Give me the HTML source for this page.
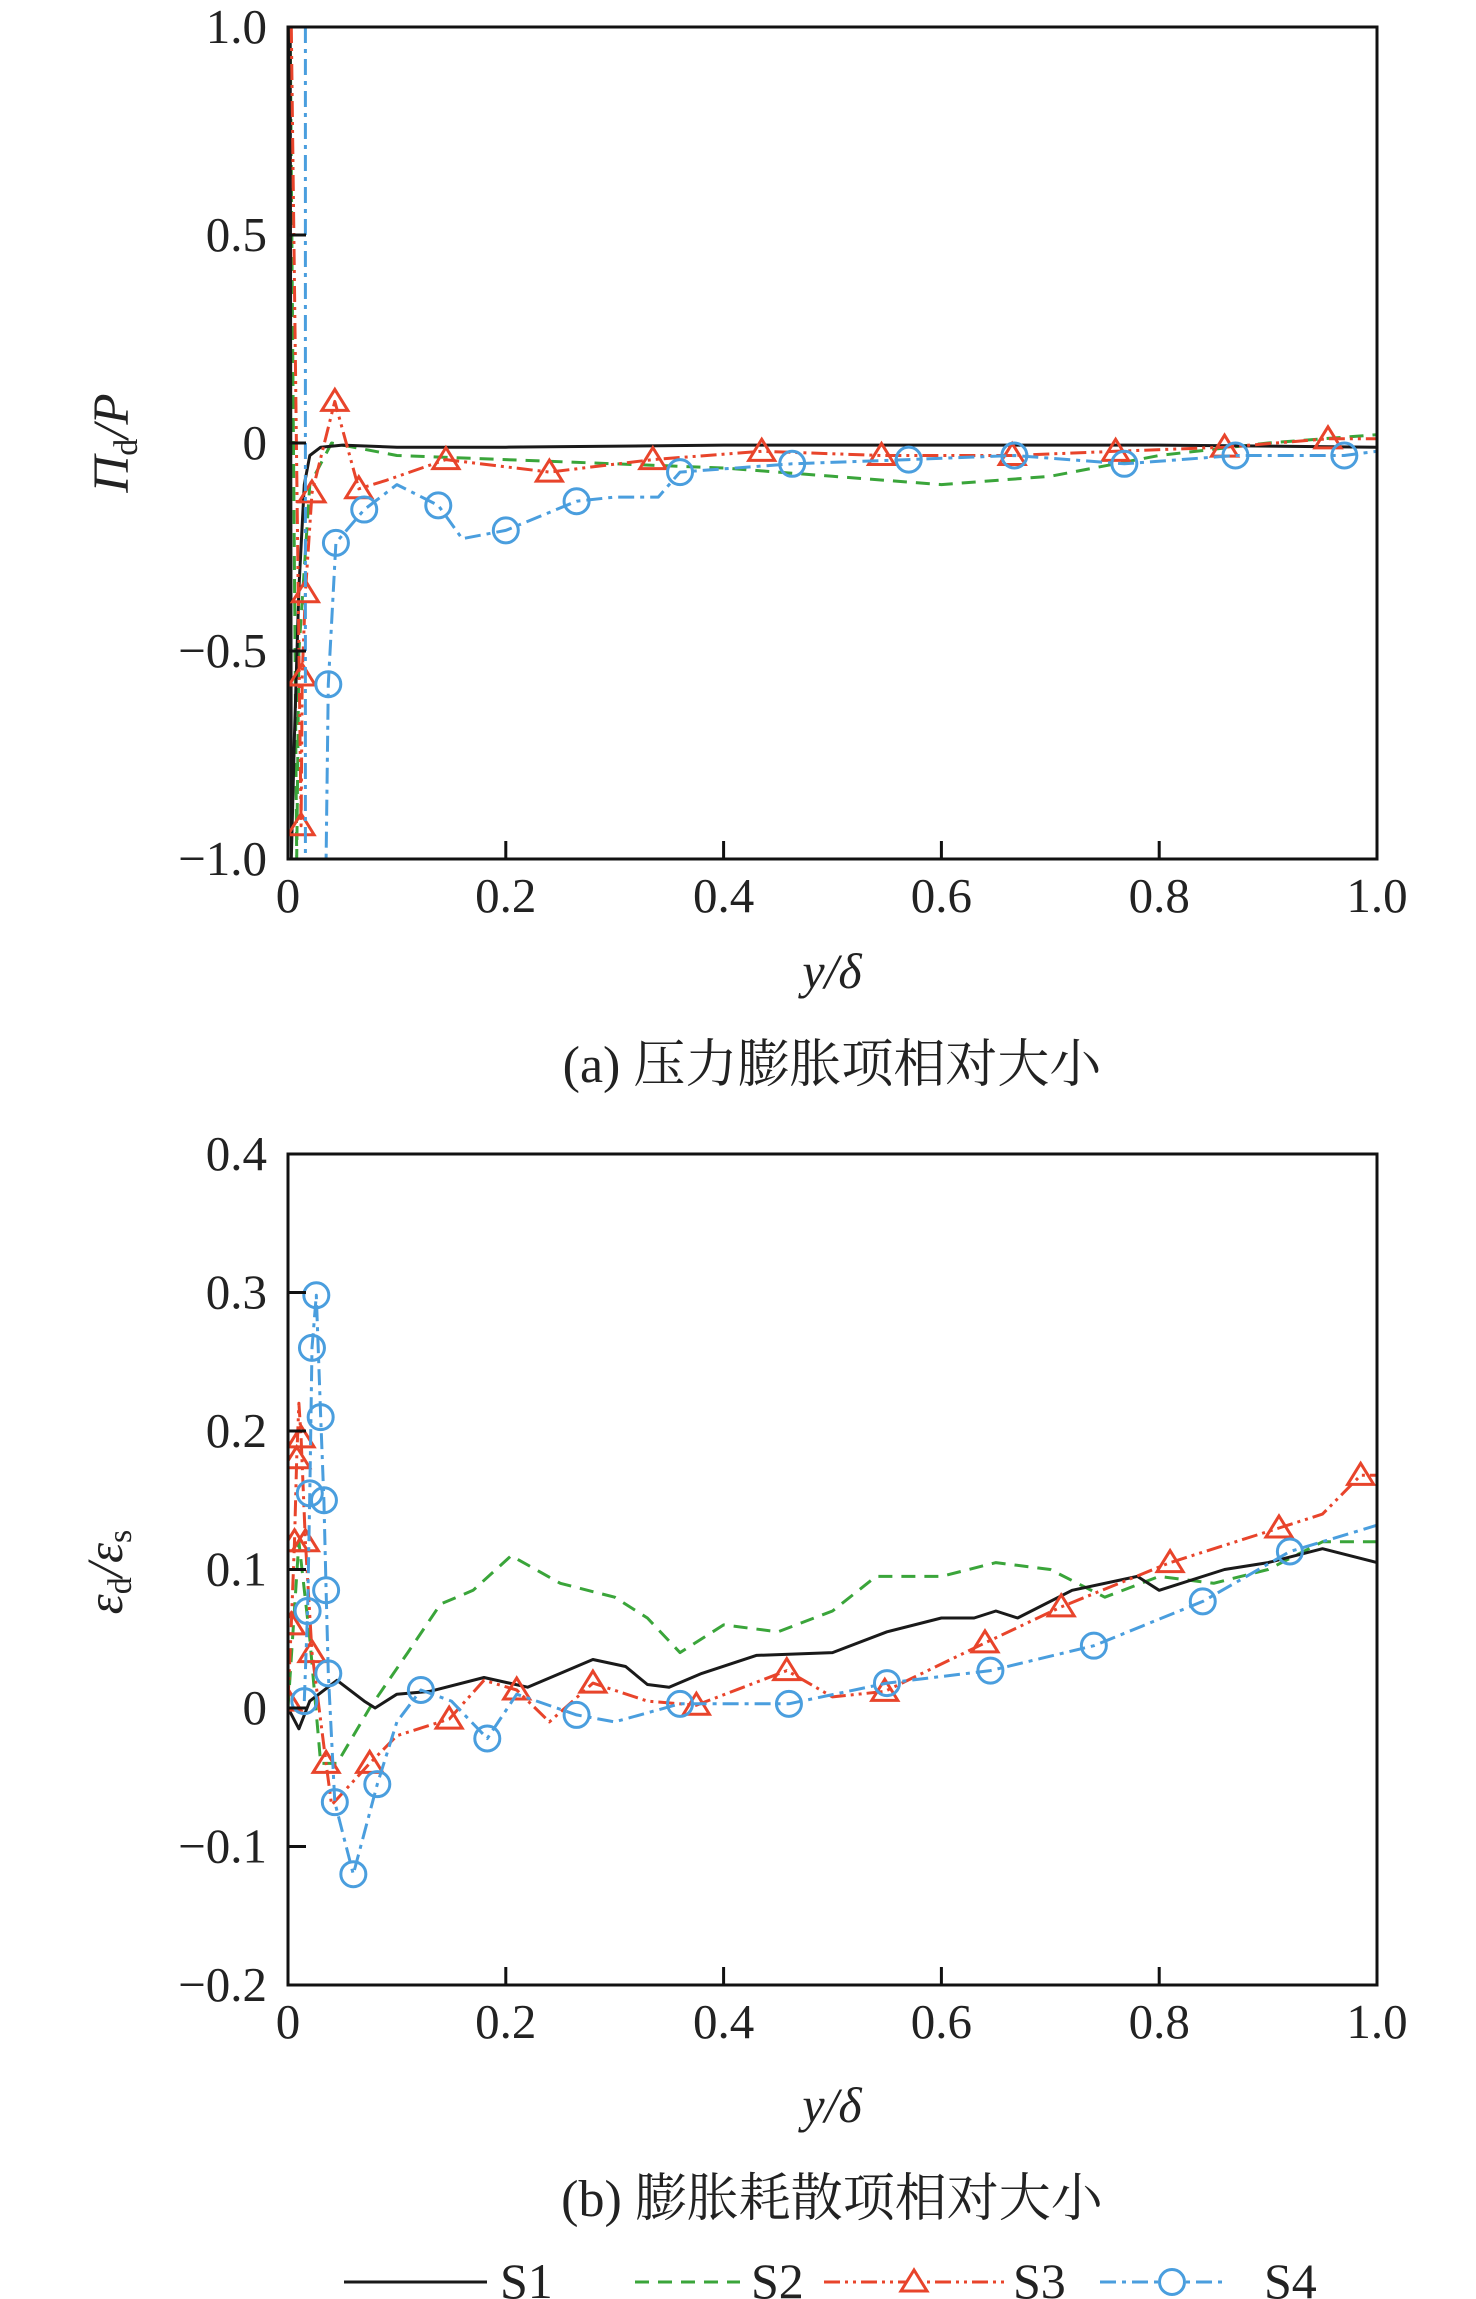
<!DOCTYPE html>
<html><head><meta charset="utf-8"><style>
html,body{margin:0;padding:0;background:#fff;}
svg{display:block;font-family:"Liberation Serif","Noto Serif CJK SC","Noto Sans CJK SC",serif;}
</style></head><body>
<svg id="fig" width="1476" height="2299" viewBox="0 0 1476 2299" xmlns="http://www.w3.org/2000/svg">
<defs>
<clipPath id="clipA"><rect x="288" y="27" width="1089" height="832"/></clipPath>
<clipPath id="clipB"><rect x="288" y="1154" width="1089" height="831"/></clipPath>
</defs>
</svg>
<script>
// ---------- Panel (a) data ----------
const xTicksA = [0, 0.2, 0.4, 0.6, 0.8, 1.0];
const xTickLabelsA = ["0", "0.2", "0.4", "0.6", "0.8", "1.0"];
const yTicksA = [-1.0, -0.5, 0, 0.5, 1.0];
const yTickLabelsA = ["\u22121.0", "\u22120.5", "0", "0.5", "1.0"];
const a_s1_x = [0.002,0.003,0.006,0.01,0.015,0.02,0.03,0.05,0.1,0.2,0.4,0.6,0.8,1.0];
const a_s1_y = [1.0,-1.0,-0.7,-0.35,-0.1,-0.03,-0.01,-0.005,-0.01,-0.01,-0.005,-0.005,-0.005,-0.01];
const a_s2_x = [0.002,0.008,0.01,0.02,0.04,0.1,0.3,0.4,0.5,0.6,0.7,0.8,0.9,1.0];
const a_s2_y = [1.0,-1.0,-0.5,-0.1,0.0,-0.03,-0.05,-0.06,-0.08,-0.1,-0.08,-0.03,0.0,0.02];
const a_s3_x = [0.003,0.012,0.013,0.016,0.022,0.043,0.065,0.09,0.145,0.24,0.335,0.435,0.545,0.665,0.76,0.86,0.955,1.0];
const a_s3_y = [1.0,-0.92,-0.56,-0.36,-0.12,0.1,-0.11,-0.09,-0.04,-0.07,-0.04,-0.02,-0.03,-0.03,-0.02,-0.01,0.01,0.01];
const a_s3_marks = [1,2,3,4,5,6,8,9,10,11,12,13,14,15,16];
const a_s4_x = [0.016,0.016,0.035,0.037,0.044,0.07,0.1,0.138,0.16,0.2,0.265,0.3,0.34,0.36,0.463,0.57,0.667,0.768,0.87,0.97,1.0];
const a_s4_y = [1.0,-1.0,-1.0,-0.58,-0.24,-0.16,-0.1,-0.15,-0.23,-0.21,-0.14,-0.13,-0.13,-0.07,-0.05,-0.04,-0.03,-0.05,-0.03,-0.03,-0.02];
const a_s4_marks = [3,4,5,7,9,10,13,14,15,16,17,18,19];

// ---------- Panel (b) data ----------
const xTicksB = [0, 0.2, 0.4, 0.6, 0.8, 1.0];
const xTickLabelsB = ["0", "0.2", "0.4", "0.6", "0.8", "1.0"];
const yTicksB = [-0.2, -0.1, 0, 0.1, 0.2, 0.3, 0.4];
const yTickLabelsB = ["\u22120.2", "\u22120.1", "0", "0.1", "0.2", "0.3", "0.4"];
const b_s1_x = [0.0,0.01,0.02,0.045,0.07,0.08,0.1,0.13,0.18,0.22,0.25,0.28,0.31,0.33,0.35,0.38,0.43,0.5,0.55,0.6,0.63,0.65,0.67,0.72,0.78,0.8,0.86,0.9,0.95,1.0];
const b_s1_y = [0.0,-0.015,0.005,0.02,0.005,0.0,0.01,0.012,0.022,0.015,0.025,0.035,0.03,0.017,0.015,0.025,0.038,0.04,0.055,0.065,0.065,0.07,0.065,0.085,0.095,0.085,0.1,0.105,0.115,0.105];
const b_s2_x = [0.0,0.01,0.02,0.03,0.045,0.075,0.11,0.14,0.17,0.205,0.25,0.3,0.33,0.36,0.4,0.45,0.5,0.54,0.6,0.65,0.7,0.75,0.8,0.85,0.9,0.95,1.0];
const b_s2_y = [0.0,0.12,0.05,-0.04,-0.04,0.0,0.04,0.075,0.085,0.11,0.09,0.08,0.065,0.04,0.06,0.055,0.07,0.095,0.095,0.105,0.1,0.08,0.095,0.09,0.1,0.12,0.12];
const b_s3_x = [0.0,0.003,0.006,0.008,0.01,0.012,0.016,0.022,0.035,0.04,0.075,0.1,0.148,0.18,0.21,0.24,0.28,0.33,0.375,0.458,0.5,0.548,0.64,0.71,0.81,0.91,0.95,0.985,1.0];
const b_s3_y = [0.005,0.06,0.12,0.18,0.22,0.195,0.12,0.04,-0.04,-0.07,-0.04,-0.02,-0.008,0.02,0.013,-0.01,0.018,0.005,0.002,0.027,0.008,0.012,0.047,0.073,0.105,0.13,0.14,0.168,0.168];
const b_s3_marks = [0,1,2,3,5,6,7,8,10,12,14,16,18,19,21,22,23,24,25,27];
const b_s4_x = [0.015,0.018,0.02,0.022,0.026,0.03,0.033,0.035,0.037,0.043,0.06,0.082,0.1,0.122,0.15,0.183,0.21,0.265,0.3,0.36,0.46,0.55,0.645,0.74,0.84,0.92,1.0];
const b_s4_y = [0.005,0.07,0.155,0.26,0.298,0.21,0.15,0.085,0.025,-0.068,-0.12,-0.055,-0.01,0.013,0.005,-0.022,0.01,-0.005,-0.01,0.003,0.003,0.018,0.027,0.045,0.077,0.113,0.132];
const b_s4_marks = [0,1,2,3,4,5,6,7,8,9,10,11,13,15,17,19,20,21,22,23,24,25];

const NS = "http://www.w3.org/2000/svg";
const svg = document.getElementById('fig');
function el(tag, attrs, parent){ const e=document.createElementNS(NS,tag); for(const k in attrs) e.setAttribute(k,attrs[k]); (parent||svg).appendChild(e); return e; }

const COLORS = {s1:"#1a1a1a", s2:"#3aa53a", s3:"#e8442b", s4:"#4a9ede"};
const DASH = {s1:"none", s2:"14,9", s3:"16,5,3,5,3,5", s4:"16,6,4,6"};

function panel(cfg){
  const L=288,R=1377,T=cfg.top,B=cfg.bottom;
  const sx = v => L + (v - cfg.xmin)/(cfg.xmax-cfg.xmin)*(R-L);
  const sy = v => B - (v - cfg.ymin)/(cfg.ymax-cfg.ymin)*(B-T);
  const g = el('g',{});
  
  
  const sg = el('g',{'clip-path':'url(#'+cfg.clip+')'},g);
  cfg.series.forEach(s=>{
    const d = s.x.map((xv,i)=>(i?'L':'M')+sx(xv).toFixed(1)+','+sy(s.y[i]).toFixed(1)).join(' ');
    const p = el('path',{d:d,fill:'none',stroke:COLORS[s.key],'stroke-width':3,'stroke-dasharray':DASH[s.key],'stroke-linejoin':'round'},sg);
    
    
    (s.marks||[]).forEach(i=>{
      const cx=sx(s.x[i]), cy=sy(s.y[i]);
      let m;
      if(s.key==='s3'){
        m = el('polygon',{points:`${cx},${cy-12} ${cx-13},${cy+9} ${cx+13},${cy+9}`,fill:'none',stroke:COLORS.s3,'stroke-width':3},sg);
      } else {
        m = el('circle',{cx:cx,cy:cy,r:12.5,fill:'none',stroke:COLORS.s4,'stroke-width':3},sg);
      }
      
      
    });
  });
  const fr = el('rect',{x:L,y:T,width:R-L,height:B-T,fill:'none',stroke:'#111','stroke-width':3},g);
  
  
  cfg.xt.forEach((v,i)=>{
    const x=sx(v);
    if(i>0 && i<cfg.xt.length-1){ const t=el('line',{x1:x,x2:x,y1:B,y2:B-18,stroke:'#111','stroke-width':3},g);
      
       }
    const tx=el('text',{x:x,y:B+53,'text-anchor':'middle','font-size':49,fill:'#222'},g);
    tx.textContent=cfg.xl[i];
    
    
  });
  cfg.yt.forEach((v,i)=>{
    const y=sy(v);
    if(i>0 && i<cfg.yt.length-1){ const t=el('line',{x1:L,x2:L+18,y1:y,y2:y,stroke:'#111','stroke-width':3},g);
      
       }
    const tx=el('text',{x:L-21,y:y+16,'text-anchor':'end','font-size':49,fill:'#222'},g);
    tx.textContent=cfg.yl[i];
    
    
  });
}

panel({name:'panel-a',prefix:'a',top:27,bottom:859,clip:'clipA',xmin:0,xmax:1,ymin:-1,ymax:1,
  xt:xTicksA,xl:xTickLabelsA,yt:yTicksA,yl:yTickLabelsA,
  series:[{key:'s2',x:a_s2_x,y:a_s2_y},{key:'s1',x:a_s1_x,y:a_s1_y},
          {key:'s3',x:a_s3_x,y:a_s3_y,marks:a_s3_marks},{key:'s4',x:a_s4_x,y:a_s4_y,marks:a_s4_marks}]});
panel({name:'panel-b',prefix:'b',top:1154,bottom:1985,clip:'clipB',xmin:0,xmax:1,ymin:-0.2,ymax:0.4,
  xt:xTicksB,xl:xTickLabelsB,yt:yTicksB,yl:yTickLabelsB,
  series:[{key:'s2',x:b_s2_x,y:b_s2_y},{key:'s1',x:b_s1_x,y:b_s1_y},
          {key:'s3',x:b_s3_x,y:b_s3_y,marks:b_s3_marks},{key:'s4',x:b_s4_x,y:b_s4_y,marks:b_s4_marks}]});
</script>
<svg style="position:absolute;left:0;top:0" width="1476" height="2299" xmlns="http://www.w3.org/2000/svg">
<g font-family="Liberation Serif, Noto Serif CJK SC, serif" fill="#222">
<text x="128" y="443" font-size="51" font-style="italic" text-anchor="middle" transform="rotate(-90 128 443)">Π<tspan font-size="34" font-style="normal" dy="9">d</tspan><tspan dy="-9">/P</tspan></text>
<text x="832" y="988" font-size="50" font-style="italic" text-anchor="middle">y/δ</text>
<text x="832" y="1082" font-size="52" text-anchor="middle">(a) 压力膨胀项相对大小</text>
<text x="122" y="1572" font-size="51" font-style="italic" text-anchor="middle" transform="rotate(-90 122 1572)">ε<tspan font-size="34" font-style="normal" dy="9">d</tspan><tspan dy="-9">/ε</tspan><tspan font-size="34" font-style="normal" dy="9">s</tspan></text>
<text x="832" y="2122" font-size="50" font-style="italic" text-anchor="middle">y/δ</text>
<text x="832" y="2216" font-size="52" text-anchor="middle">(b) 膨胀耗散项相对大小</text>
</g>
<g font-family="Liberation Serif, serif" font-size="50" fill="#222">
<g><line x1="344" y1="2282" x2="487" y2="2282" stroke="#1a1a1a" stroke-width="3"/><text x="500" y="2298">S1</text></g>
<g><line x1="635" y1="2282" x2="740" y2="2282" stroke="#3aa53a" stroke-width="3" stroke-dasharray="14,9"/><text x="751" y="2298">S2</text></g>
<g><line x1="824" y1="2282" x2="1004" y2="2282" stroke="#e8442b" stroke-width="3" stroke-dasharray="16,5,3,5,3,5"/><polygon points="914,2270 901,2291 927,2291" fill="#fff" stroke="#e8442b" stroke-width="3"/><text x="1013" y="2298">S3</text></g>
<g><line x1="1100" y1="2282" x2="1225" y2="2282" stroke="#4a9ede" stroke-width="3" stroke-dasharray="16,6,4,6"/><circle cx="1172" cy="2282" r="12.5" fill="#fff" stroke="#4a9ede" stroke-width="3"/><text x="1264" y="2298">S4</text></g>
</g>
</svg>
</body></html>
